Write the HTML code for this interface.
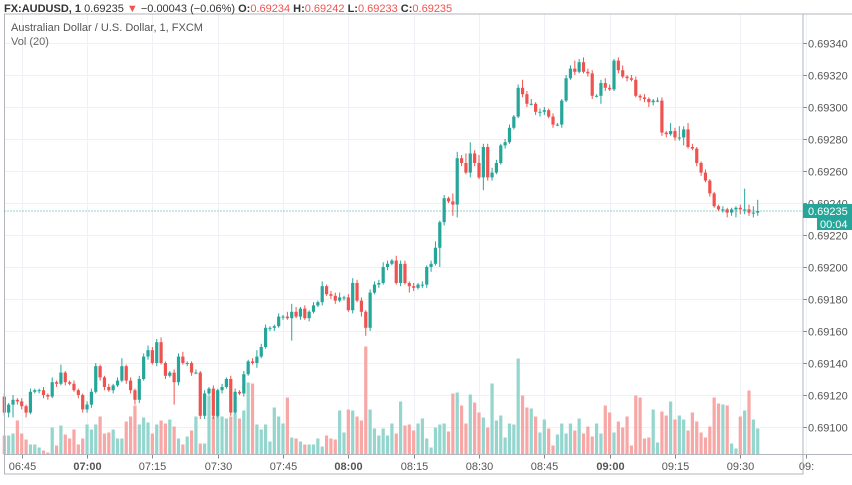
<!DOCTYPE html>
<html><head><meta charset="utf-8"><style>
html,body{margin:0;padding:0;background:#fff;width:852px;height:485px;overflow:hidden;font-family:"Liberation Sans",sans-serif}
svg{display:block}
</style></head><body>
<svg id="chart" width="852" height="485" viewBox="0 0 852 485">
<g id="grid"></g>
<g id="vol"></g>
<g id="candles"></g>
<g id="axes"></g>
<text x="4" y="12" font-size="11" font-weight="bold" fill="#333">FX:AUDUSD, 1 <tspan font-weight="normal">0.69235</tspan> <tspan fill="#ef5350">▼</tspan> <tspan font-weight="normal">−0.00043 (−0.06%)</tspan> O:<tspan fill="#ef5350" font-weight="normal">0.69234</tspan> H:<tspan fill="#ef5350" font-weight="normal">0.69242</tspan> L:<tspan fill="#ef5350" font-weight="normal">0.69233</tspan> C:<tspan fill="#ef5350" font-weight="normal">0.69235</tspan></text>
<text x="11" y="31" font-size="11" fill="#555">Australian Dollar / U.S. Dollar, 1, FXCM</text>
<text x="11" y="45" font-size="11" fill="#666">Vol (20)</text>
</svg>
<script>
// prices: 0.69 + value/100000
const firstOpen = 119;
const closes = [109,114,117,116,113,109,122,123,123,120,119,128,127,134,128,127,123,120,111,114,122,138,131,125,123,126,129,138,129,123,117,130,144,148,140,153,140,132,134,128,144,140,140,134,134,107,121,124,107,123,125,130,109,122,121,133,141,140,144,150,162,162,163,169,169,168,172,169,174,168,172,176,178,188,183,182,179,181,181,173,190,179,172,162,184,189,190,200,202,204,190,202,190,188,187,189,189,200,202,212,228,243,241,239,268,265,259,271,265,256,275,256,259,265,276,278,287,294,312,308,302,302,297,297,298,294,289,289,304,318,324,322,328,322,321,307,307,315,312,311,329,323,319,318,317,307,306,305,303,304,304,284,283,285,281,281,286,275,274,265,259,254,246,238,236,236,234,236,237,236,236,234,234,235];
const wickUp = [2,1,3,1,2,1,2,1,1,2,1,3,1,5,1,1,2,1,1,2,2,2,1,1,2,1,2,5,1,2,1,2,2,3,2,2,3,1,1,2,2,3,1,1,2,1,2,1,2,1,2,1,2,2,1,2,1,2,4,2,2,1,1,2,1,3,5,3,1,2,1,2,1,3,1,2,2,3,1,2,3,2,2,1,2,2,2,3,2,1,3,2,2,1,2,1,2,1,2,4,1,2,1,5,4,2,6,7,2,5,2,2,3,2,1,2,2,1,2,5,2,3,1,2,2,1,2,1,1,2,2,5,2,3,2,2,1,2,3,2,1,2,3,1,2,2,1,2,1,1,2,2,1,5,2,7,2,4,2,1,1,2,1,1,1,2,1,1,1,2,13,3,4,7];
const wickDown = [2,3,8,2,2,3,1,1,2,2,2,1,2,1,2,1,1,2,2,2,2,1,2,2,1,2,1,1,2,2,3,2,1,2,1,2,1,2,1,14,2,1,2,2,1,2,2,1,2,1,2,1,2,1,1,2,1,1,3,1,1,2,2,1,2,1,14,1,2,1,2,1,1,2,1,2,2,1,2,1,2,1,3,5,2,1,2,1,2,1,1,2,1,4,2,1,2,2,3,1,12,2,1,7,8,2,1,3,2,1,8,2,2,1,1,2,1,1,1,2,2,1,2,3,2,1,2,1,2,1,1,2,1,1,2,2,1,5,2,1,1,2,1,2,1,1,2,2,3,2,1,2,2,1,2,2,5,1,1,2,2,1,2,1,1,2,3,2,5,3,3,2,3,2];
const volumes = [19,19,21,34,21,15,10,10,7,4,2,27,9,29,20,16,25,10,16,30,25,30,38,21,22,25,16,16,33,38,49,30,37,32,21,30,34,31,35,28,16,10,18,24,38,11,11,59,38,44,38,36,38,41,36,44,72,71,30,25,30,13,47,38,31,57,17,16,13,10,10,10,16,8,19,16,15,44,22,45,44,38,34,108,45,26,19,26,19,31,21,53,29,30,24,31,36,16,7,27,30,31,23,61,62,49,31,60,52,42,37,27,71,34,39,17,31,30,96,59,47,46,38,22,35,26,9,20,31,21,31,24,36,21,28,18,31,21,49,42,22,33,27,38,9,59,57,16,17,45,12,43,39,53,35,39,35,24,42,33,22,17,28,57,51,50,49,11,6,38,44,64,35,26,33];
const priceTicks = [100,120,140,160,180,200,220,240,260,280,300,320,340];
const timeLabels = ["06:45","07:00","07:15","07:30","07:45","08:00","08:15","08:30","08:45","09:00","09:15","09:30","09:"];
const timeLabelIdx = [4,19,34,49,64,79,94,109,124,139,154,169,184];
const boldLabels = ["07:00","08:00","09:00"];
const lastPrice = 235;

const NS="http://www.w3.org/2000/svg";
const L=4.5,R=803,T=14,B=454.5;
function xScale(i){return 4.3+i*4.355;}
function yScale(v){return 43+(340-v)*32/20;}
function vScale(v){return B-v;}
function mk(tag,attrs,parent){const e=document.createElementNS(NS,tag);for(const k in attrs)e.setAttribute(k,attrs[k]);parent.appendChild(e);return e;}
const grid=document.getElementById('grid'),vol=document.getElementById('vol'),cg=document.getElementById('candles'),ax=document.getElementById('axes');

priceTicks.forEach(p=>{
  const y=Math.round(yScale(p))+0.5;
  const g=mk('line',{x1:L,x2:R,y1:y,y2:y,stroke:'#eef1f6','stroke-width':1},grid);
  
  
  const t=mk('text',{x:808,y:y+4,'font-size':11,fill:'#555'},ax);
  t.textContent=(0.69+p/100000).toFixed(5);
  
  
  mk('line',{x1:R,x2:R+4,y1:y,y2:y,stroke:'#888'},ax);
});
timeLabels.forEach((lab,k)=>{
  const x=Math.round(xScale(timeLabelIdx[k]))+0.5;
  const g=mk('line',{x1:x,x2:x,y1:T,y2:B,stroke:'#eef1f6'},grid);
  
  
  mk('line',{x1:x,x2:x,y1:B,y2:B+4,stroke:'#888'},ax);
  const t=mk('text',{x:x,y:470,'font-size':11,fill:'#555','text-anchor':'middle','font-weight':boldLabels.includes(lab)?'bold':'normal'},ax);
  t.textContent=lab;
  
  
});

closes.forEach((c,i)=>{
  const o=i===0?firstOpen:closes[i-1];
  const up=c>=o;
  const x=xScale(i);
  const hi=Math.max(o,c)+wickUp[i], lo=Math.min(o,c)-wickDown[i];
  const col=up?'#26a69a':'#ef5350';
  const vb=mk('rect',{x:x-1.6,y:vScale(volumes[i]),width:3.2,height:volumes[i],fill:up?'#94d5ce':'#f7a7a5'},vol);
  
  
  const w=mk('line',{x1:x,x2:x,y1:yScale(hi),y2:yScale(lo),stroke:col,'stroke-width':1},cg);
  
  
  const y1=yScale(Math.max(o,c)),y2=yScale(Math.min(o,c));
  const b=mk('rect',{x:x-1.6,y:y1,width:3.2,height:Math.max(1,y2-y1),fill:col},cg);
  
  
});

mk('rect',{x:L,y:T,width:R-L,height:474-T,fill:'none',stroke:'#b2b5be'},ax);
mk('line',{x1:L,x2:852,y1:B,y2:B,stroke:'#b2b5be'},ax);
mk('line',{x1:R,x2:R,y1:T,y2:474,stroke:'#b2b5be'},ax);
mk('line',{x1:R,x2:852,y1:T,y2:T,stroke:'#b2b5be'},ax);
const ly=yScale(lastPrice);
const pl=mk('line',{x1:L,x2:R,y1:ly,y2:ly,stroke:'#26a69a','stroke-dasharray':'1,2','stroke-width':1},ax);


const bx=mk('rect',{x:R,y:ly-7,width:49,height:14,fill:'#26a69a'},ax);


const bt=mk('text',{x:808,y:ly+4,'font-size':11,fill:'#fff'},ax);
bt.textContent=(0.69+lastPrice/100000).toFixed(5);


const cb=mk('rect',{x:817,y:ly+7,width:35,height:12,fill:'#26a69a'},ax);


const ct=mk('text',{x:820,y:ly+17,'font-size':11,fill:'#fff'},ax);
ct.textContent='00:04';


</script>
</body></html>
